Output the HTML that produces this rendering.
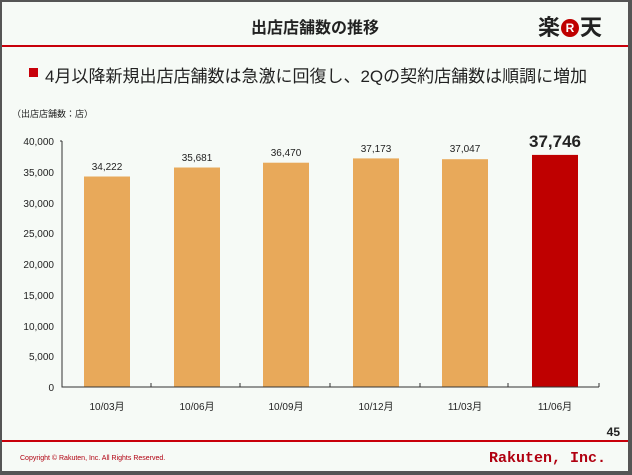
<!DOCTYPE html>
<html><head><meta charset="utf-8"><style>
body{margin:0;width:632px;height:475px;overflow:hidden;background:#555;}
#p{position:absolute;left:2px;top:2px;width:626px;height:469px;background:#f6faf6;font-family:"Liberation Sans","Noto Sans CJK JP",sans-serif;}
.t{position:absolute;white-space:nowrap;}
</style></head><body>
<div id="p">
<div class="t" style="left:0;width:626px;top:12px;text-align:center;font-size:16px;font-weight:bold;color:#222;">出店店舗数の推移</div>
<div class="t" style="left:536px;top:8px;font-size:22px;font-weight:bold;color:#222;">楽<span style="display:inline-block;width:18px;height:18px;border-radius:50%;background:#bf0000;color:#fff;font-size:12px;text-align:center;line-height:18px;vertical-align:3px;margin:0 1px;">R</span>天</div>
<div style="position:absolute;left:0;top:43px;width:626px;height:2px;background:#c8000a;"></div>
<div style="position:absolute;left:27px;top:66px;width:9px;height:9px;background:#c8000a;"></div>
<div class="t" style="left:43px;top:60px;font-size:17px;color:#222;">4月以降新規出店店舗数は急激に回復し、2Qの契約店舗数は順調に増加</div>
<div class="t" style="left:10px;top:105px;font-size:9px;color:#222;">（出店店舗数：店）</div>
<svg style="position:absolute;left:-2px;top:-2px" width="632" height="475" font-family="Liberation Sans, sans-serif" font-size="10" fill="#222">
<g text-anchor="end">
<text x="54" y="145">40,000</text><text x="54" y="176">35,000</text><text x="54" y="207">30,000</text><text x="54" y="237">25,000</text><text x="54" y="268">20,000</text><text x="54" y="299">15,000</text><text x="54" y="330">10,000</text><text x="54" y="360">5,000</text><text x="54" y="391">0</text>
</g>
<g fill="#e8a95a">
<rect x="84" y="176.5" width="46" height="210.5"/><rect x="174" y="167.5" width="46" height="219.5"/><rect x="263" y="162.7" width="46" height="224.3"/><rect x="353" y="158.4" width="46" height="228.6"/><rect x="442" y="159.2" width="46" height="227.8"/>
</g>
<rect x="532" y="154.9" width="46" height="232.1" fill="#bf0000"/>
<path d="M62 141V387H599M60 141H62M151 387V383M240 387V383M330 387V383M420 387V383M508 387V383M599 387V383" stroke="#333" stroke-width="1" fill="none"/>
<g text-anchor="middle">
<text x="107" y="170">34,222</text><text x="197" y="161">35,681</text><text x="286" y="156">36,470</text><text x="376" y="152">37,173</text><text x="465" y="152">37,047</text>
<text x="555" y="147" font-size="17" font-weight="bold">37,746</text>
<g font-family="Liberation Sans, Noto Sans CJK JP, sans-serif"><text x="107" y="410">10/03月</text><text x="197" y="410">10/06月</text><text x="286" y="410">10/09月</text><text x="376" y="410">10/12月</text><text x="465" y="410">11/03月</text><text x="555" y="410">11/06月</text></g>
</g>
<text x="620" y="436" text-anchor="end" font-size="12" font-weight="bold">45</text>
<rect x="2" y="440" width="626" height="2" fill="#c8000a"/>
<text x="20" y="460" font-size="7" fill="#b00010">Copyright © Rakuten, Inc. All Rights Reserved.</text>
<text x="606" y="462" text-anchor="end" font-size="15" fill="#b00010" font-family="Liberation Mono, monospace" font-weight="bold">Rakuten, Inc.</text>
</svg>
</div>
</body></html>
